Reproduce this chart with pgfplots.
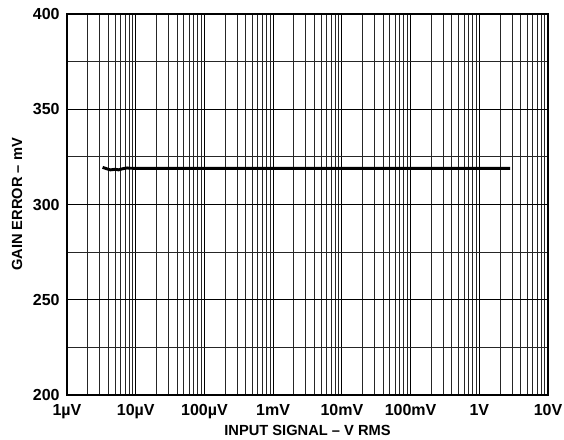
\documentclass[border=0pt]{standalone}
\usepackage{fontspec}
\setmainfont{Liberation Sans}
\usepackage{pgfplots}
\pgfplotsset{compat=1.18}

\begin{document}
\begin{tikzpicture}
\begin{axis}[
    scale only axis,
    width=360.75pt, height=285.75pt,
    xmode=log,
    xmin=1e-6, xmax=10,
    ymin=200, ymax=400,
    log basis x=10,
    xtick={1e-6,1e-5,1e-4,1e-3,1e-2,1e-1,1,10},
    xticklabels={1µV,10µV,100µV,1mV,10mV,100mV,1V,10V},
    ytick={200,250,300,350,400},
    minor ytick={225,275,325,375},
    minor xtick={2e-6,3e-6,4e-6,5e-6,6e-6,7e-6,8e-6,9e-6,
                 2e-5,3e-5,4e-5,5e-5,6e-5,7e-5,8e-5,9e-5,
                 2e-4,3e-4,4e-4,5e-4,6e-4,7e-4,8e-4,9e-4,
                 2e-3,3e-3,4e-3,5e-3,6e-3,7e-3,8e-3,9e-3,
                 2e-2,3e-2,4e-2,5e-2,6e-2,7e-2,8e-2,9e-2,
                 2e-1,3e-1,4e-1,5e-1,6e-1,7e-1,8e-1,9e-1,
                 2,3,4,5,6,7,8,9},
    grid=both,
    major grid style={black, line width=0.9pt},
    minor grid style={black!85, line width=0.7pt},
    axis line style={black, line width=1.2pt},
    tick style={draw=none},
    major tick length=0pt, minor tick length=0pt,
    tick label style={font=\fontsize{12}{14}\selectfont\bfseries},
    xticklabel style={yshift=-3.5pt},
    yticklabel style={xshift=-2pt},
    /pgf/number format/assume math mode=true,
    xlabel={INPUT SIGNAL – V RMS},
    ylabel={GAIN ERROR – mV},
    label style={font=\fontsize{11}{13}\selectfont\bfseries},
    xlabel style={at={(axis description cs:0.5,0)}, anchor=center, yshift=-26.5pt},
    ylabel style={at={(axis description cs:0,0.5)}, anchor=center, yshift=37.5pt},
]
\addplot[black, line width=2.2pt, smooth] coordinates {
    (3.3e-6,319.5) (3.7e-6,318.9) (4.3e-6,318.2) (5.0e-6,318.5)
    (5.6e-6,318.2) (6.5e-6,318.8) (7.5e-6,319.2) (1e-5,319.0)
    (1e-4,319.0) (1e-3,319.0) (1e-2,319.0) (1e-1,319.0) (1,319.0) (2.8,319.0)
};
\end{axis}
\pgfresetboundingbox
\path[use as bounding box] ([shift={(-50.25pt,-33pt)}]current axis.south west)
    rectangle ([shift={(12pt,10.5pt)}]current axis.north east);
\end{tikzpicture}
\end{document}
